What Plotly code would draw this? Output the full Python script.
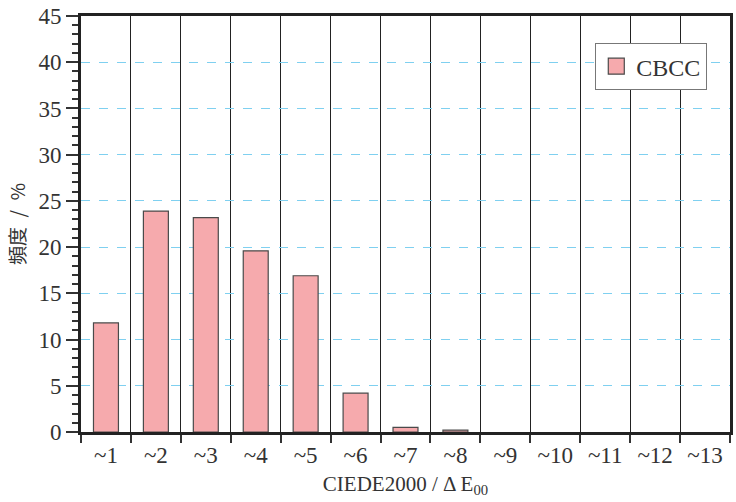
import plotly.graph_objects as go

# Colour-difference bins and the share of samples in each
categories = ["~1", "~2", "~3", "~4", "~5", "~6", "~7", "~8", "~9", "~10", "~11", "~12", "~13"]
cbcc_freq = [11.8, 23.9, 23.2, 19.6, 16.9, 4.2, 0.5, 0.2, 0, 0, 0, 0, 0]

serif = "Liberation Serif, DejaVu Serif, serif"
bar_fill = "#F6AAAD"
bar_edge = "#4a4a4a"

fig = go.Figure()
fig.add_trace(go.Bar(
    x=categories,
    y=cbcc_freq,
    name="CBCC",
    showlegend=False,
    marker=dict(
        color=bar_fill,
        # empty bins get no outline so nothing sits on the baseline
        line=dict(color=bar_edge, width=[1.2 if v > 0 else 0 for v in cbcc_freq]),
    ),
))
# legend entry with a larger swatch
fig.add_trace(go.Scatter(
    x=[None], y=[None], mode="markers", name="CBCC",
    marker=dict(symbol="square", size=20, color=bar_fill, line=dict(color=bar_edge, width=1.2)),
))

fig.update_layout(
    template="none",
    width=736,
    height=502,
    margin=dict(l=81, r=6, t=16, b=70),
    paper_bgcolor="white",
    plot_bgcolor="white",
    bargap=0.5,
    font=dict(family=serif, size=22, color="#333333"),
    showlegend=True,
    legend=dict(
        x=0.965, y=0.935, xanchor="right", yanchor="top",
        bgcolor="white", bordercolor="#777777", borderwidth=1,
        font=dict(family=serif, size=24, color="#333333"),
        itemwidth=30,
    ),
)

fig.update_xaxes(
    type="category",
    tickson="boundaries",
    ticks="outside",
    ticklen=8,
    tickwidth=1.5,
    tickcolor="#333333",
    showgrid=True,
    gridcolor="#222222",
    gridwidth=1,
    showline=True,
    linecolor="#222222",
    linewidth=3,
    mirror=True,
    zeroline=False,
    tickfont=dict(family=serif, size=23),
    title=dict(text="CIEDE2000 / Δ E<sub>00</sub>", font=dict(family=serif, size=21), standoff=10),
)

fig.update_yaxes(
    range=[0, 45],
    dtick=5,
    ticks="outside",
    ticklen=12,
    tickwidth=1.5,
    tickcolor="#333333",
    minor=dict(dtick=1, ticks="outside", ticklen=6, tickwidth=1.5, tickcolor="#333333", showgrid=False),
    showgrid=True,
    gridcolor="#7FD0F0",
    gridwidth=1.2,
    griddash="dash",
    zeroline=False,
    showline=True,
    linecolor="#222222",
    linewidth=3,
    mirror=True,
    tickfont=dict(family=serif, size=23),
    title=dict(text="頻度\u2002/\u2002%", font=dict(family="Noto Sans CJK JP, serif", size=19), standoff=8),
)

fig.write_html("out.html")
